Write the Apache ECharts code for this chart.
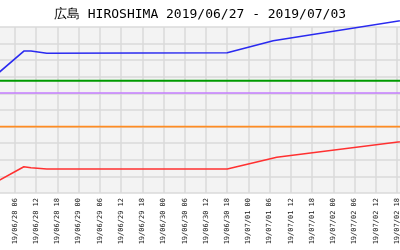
<!DOCTYPE html>
<html>
<head>
<meta charset="utf-8">
<script src="https://cdn.jsdelivr.net/npm/echarts@6/dist/echarts.min.js"></script>
<style>html,body{margin:0;padding:0;background:#fff}#c{width:400px;height:250px}</style>
</head>
<body>
<div id="c"></div>
<script>
// hours counted from 2019/06/28 00:00
const titleText = "広島 HIROSHIMA 2019/06/27 - 2019/07/03";
const blueHours = [0, 8.5, 10.5, 15, 66, 79, 120];
const blueValues = [69.9, 85.5, 85.5, 84.2, 84.5, 91.7, 105.5];
const redHours = [0, 8.5, 10.5, 15, 66, 80, 120];
const redValues = [5.8, 15.8, 15.2, 14.5, 14.5, 21.5, 32.3];
const flatHours = [0, 120];
const greenValue = 67.6;
const purpleValue = 60.2;
const orangeValue = 40;

function pairs(hs, vs) { return hs.map((h, i) => [h, vs[i]]); }
function fmt(h) {
  let day = 28 + Math.floor(h / 24);
  let mon = '06';
  if (day > 30) { day -= 30; mon = '07'; }
  const hr = Math.round(h % 24);
  return '19/' + mon + '/' + String(day).padStart(2, '0') + ' ' + String(hr).padStart(2, '0');
}

const chart = echarts.init(document.getElementById('c'));
chart.setOption({
  animation: false,
  title: {
    text: titleText, left: 'center', top: 3,
    textStyle: { fontFamily: 'DejaVu Sans Mono', fontSize: 13, fontWeight: 'normal', color: '#000' }
  },
  grid: {
    left: -6.2, right: -18.2, top: 27, bottom: 57,
    outerBoundsMode: 'none', containLabel: false,
    show: true, backgroundColor: '#f3f3f3', borderWidth: 0
  },
  xAxis: {
    type: 'value', min: 0, max: 120, interval: 6,
    axisLine: { show: false }, axisTick: { show: false },
    splitLine: { show: true, lineStyle: { color: '#dadada', width: 1.5 } },
    axisLabel: {
      rotate: 90, margin: 5, fontSize: 7, fontFamily: 'DejaVu Sans Mono', color: '#1a1a1a',
      formatter: fmt
    }
  },
  yAxis: {
    type: 'value', min: 0, max: 100, interval: 10,
    axisLine: { show: false }, axisTick: { show: false }, axisLabel: { show: false },
    splitLine: { show: true, lineStyle: { color: '#dadada', width: 1.5 } }
  },
  series: [
    { type: 'line', data: pairs(flatHours, [greenValue, greenValue]), symbol: 'none', clip: false, lineStyle: { color: '#009a00', width: 2 } },
    { type: 'line', data: pairs(flatHours, [purpleValue, purpleValue]), symbol: 'none', clip: false, lineStyle: { color: '#c47cff', width: 1.6 } },
    { type: 'line', data: pairs(flatHours, [orangeValue, orangeValue]), symbol: 'none', clip: false, lineStyle: { color: '#ff8c22', width: 1.6 } },
    { type: 'line', data: pairs(blueHours, blueValues), symbol: 'none', clip: false, lineStyle: { color: '#2a2af0', width: 1.6 } },
    { type: 'line', data: pairs(redHours, redValues), symbol: 'none', clip: false, lineStyle: { color: '#ff3030', width: 1.6 } }
  ]
});
</script>
</body>
</html>
